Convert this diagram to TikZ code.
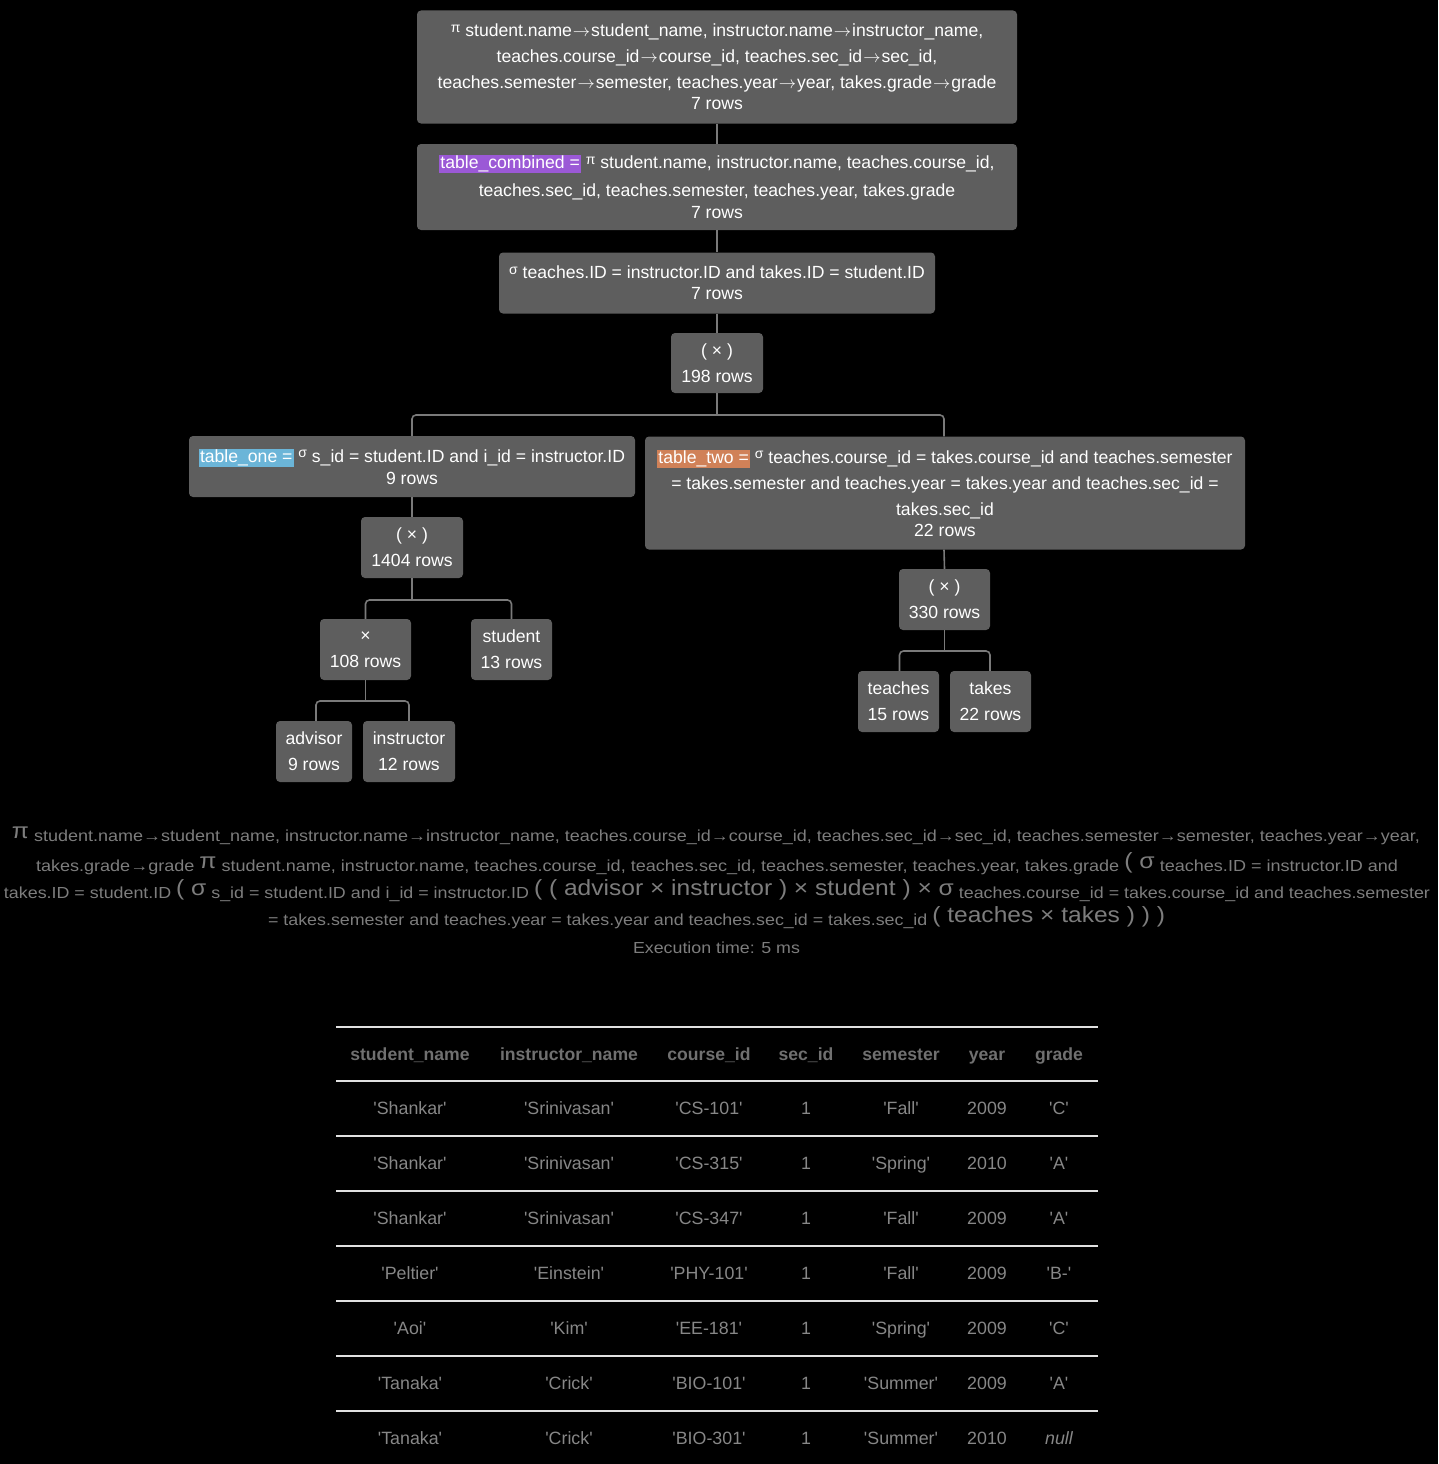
\documentclass[tikz,border=0pt]{standalone}
\usepackage{fontspec}
\setmainfont{Liberation Sans}
\newfontfamily\cellfont{Liberation Sans}[Ligatures=TeXOff]
\usepackage{graphicx}
\usetikzlibrary{calc}

\definecolor{boxfill}{RGB}{94,94,94}
\definecolor{wirecol}{RGB}{122,122,122}
\definecolor{hlpurple}{RGB}{155,89,214}
\definecolor{hlblue}{RGB}{107,181,216}
\definecolor{hlorange}{RGB}{208,129,88}
\definecolor{exprgray}{RGB}{125,125,125}
\definecolor{headgray}{RGB}{112,112,112}
\definecolor{cellgray}{RGB}{135,135,135}
\definecolor{rulegray}{RGB}{225,225,225}

% small raised operator symbol inside the tree boxes
\newcommand\opsym[1]{\raisebox{4.5pt}{\fontsize{14}{14}\selectfont #1}}
% long thin arrow used for renamings in the tree boxes
\newcommand\ren{\kern1pt$\rightarrow$\kern1pt}
% highlighted relation name
\newcommand\hlname[2]{{\setlength\fboxsep{1pt}\colorbox{#1}{#2}}}
% large symbol in the linear expression
\newcommand\bigpart[1]{\raisebox{3pt}{\fontsize{22}{22}\selectfont #1}}
% stretch a line of text to a given width
\newsavebox\exprbox
\newcommand\fitline[2]{\sbox\exprbox{#2}\pgfmathsetmacro\fitscale{#1/\wd\exprbox}\scalebox{\fitscale}[1]{\usebox\exprbox}}

\tikzset{
  opbox/.style={fill=boxfill, rounded corners=4pt, inner sep=0pt, text=white,
    align=center, font=\fontsize{17.6}{26}\selectfont},
  wire/.style={draw=wirecol, line width=1.6pt, rounded corners=4pt},
  exprline/.style={inner sep=0pt, text=exprgray, font=\fontsize{16}{20}\selectfont},
  headcell/.style={inner sep=0pt, anchor=base, text=headgray, font=\fontsize{17.6}{20}\selectfont\bfseries},
  datacell/.style={inner sep=0pt, anchor=base, text=cellgray, font=\fontsize{17.8}{20}\selectfont\cellfont},
  tablerule/.style={draw=rulegray, line width=2pt},
}

\begin{document}
\begin{tikzpicture}[x=1pt, y=-1pt]
\fill[black] (0,0) rectangle (1438,1464);
\useasboundingbox (0,0) rectangle (1438,1464);

% ---------- operator tree ----------
\node[opbox, minimum width=600pt, minimum height=113pt] (proj) at (717,67)
  {\opsym{π} student.name\ren student\_name, instructor.name\ren instructor\_name,\\
   teaches.course\_id\ren course\_id, teaches.sec\_id\ren sec\_id,\\
   teaches.semester\ren semester, teaches.year\ren year, takes.grade\ren grade\\[-5pt]
   7 rows};

\node[opbox, minimum width=600pt, minimum height=86pt] (comb) at (717,187)
  {\hlname{hlpurple}{table\_combined =} \opsym{π} student.name, instructor.name, teaches.course\_id,\\[2pt]
   teaches.sec\_id, teaches.semester, teaches.year, takes.grade\\[-4pt]
   7 rows};

\node[opbox, minimum width=436pt, minimum height=61pt] (sel) at (717,283)
  {\opsym{σ} teaches.ID = instructor.ID and takes.ID = student.ID\\[-5pt]
   7 rows};

\node[opbox, minimum width=92pt, minimum height=60pt] (prodA) at (717,363)
  {( × )\\ 198 rows};

\node[opbox, minimum width=446pt, minimum height=61pt] (tone) at (412,466.5)
  {\hlname{hlblue}{table\_one =} \opsym{σ} s\_id = student.ID and i\_id = instructor.ID\\[-4pt]
   9 rows};

\node[opbox, minimum width=600pt, minimum height=113pt] (ttwo) at (945,493)
  {\hlname{hlorange}{table\_two =} \opsym{σ} teaches.course\_id = takes.course\_id and teaches.semester\\
   = takes.semester and teaches.year = takes.year and teaches.sec\_id =\\
   takes.sec\_id\\[-5pt]
   22 rows};

\node[opbox, minimum width=102pt, minimum height=61pt] (prodB) at (412,547.5)
  {( × )\\ 1404 rows};
\node[opbox, minimum width=91pt, minimum height=61pt] (prodC) at (365.5,649.5)
  {×\\ 108 rows};
\node[opbox, minimum width=81pt, minimum height=61pt] (student) at (511.5,649.5)
  {student\\ 13 rows};
\node[opbox, minimum width=76pt, minimum height=61pt] (advisor) at (314,751.5)
  {advisor\\ 9 rows};
\node[opbox, minimum width=92pt, minimum height=61pt] (instructor) at (409,751.5)
  {instructor\\ 12 rows};

\node[opbox, minimum width=91pt, minimum height=61pt] (prodD) at (944.5,599.5)
  {( × )\\ 330 rows};
\node[opbox, minimum width=81pt, minimum height=61pt] (teaches) at (898.5,701.5)
  {teaches\\ 15 rows};
\node[opbox, minimum width=81pt, minimum height=61pt] (takes) at (990.5,701.5)
  {takes\\ 22 rows};

% connectors
\draw[wire] (proj.south) -- (comb.north);
\draw[wire] (comb.south) -- (sel.north);
\draw[wire] (sel.south) -- (prodA.north);
\draw[wire] (prodA.south) -- (prodA.south |- 0,415);
\draw[wire] (tone.north) |- (prodA.south |- 0,415) -| ([xshift=-1pt]ttwo.north);
\draw[wire] (tone.south) -- (prodB.north);
\draw[wire] (prodB.south) -- (prodB.south |- 0,600);
\draw[wire] (prodC.north) |- (prodB.south |- 0,600) -| (student.north);
\draw[wire] (prodC.south) -- (prodC.south |- 0,701);
\draw[wire] ([xshift=2pt]advisor.north) |- (prodC.south |- 0,701) -| (instructor.north);
\draw[wire] ([xshift=-1pt]ttwo.south) -- (prodD.north);
\draw[wire] (prodD.south) -- (prodD.south |- 0,651);
\draw[wire] ([xshift=1pt]teaches.north) |- (prodD.south |- 0,651) -| ([xshift=-0.5pt]takes.north);

% ---------- linear expression ----------
\node[exprline] (exA) at (716,836) {\fitline{1408}{\bigpart{π} student.name→student\_name, instructor.name→instructor\_name, teaches.course\_id→course\_id, teaches.sec\_id→sec\_id, teaches.semester→semester, teaches.year→year,}};
\node[exprline] (exB) at (717,864) {\fitline{1362}{takes.grade→grade \bigpart{π} student.name, instructor.name, teaches.course\_id, teaches.sec\_id, teaches.semester, teaches.year, takes.grade \bigpart{( σ} teaches.ID = instructor.ID and}};
\node[exprline] (exC) at (717,891) {\fitline{1426}{takes.ID = student.ID \bigpart{( σ} s\_id = student.ID and i\_id = instructor.ID \bigpart{( ( advisor × instructor ) × student ) × σ} teaches.course\_id = takes.course\_id and teaches.semester}};
\node[exprline] (exD) at (716.5,918) {\fitline{897}{= takes.semester and teaches.year = takes.year and teaches.sec\_id = takes.sec\_id \bigpart{( teaches × takes ) ) )}}};
\node[exprline] (exE) at (716.5,948) {\fitline{167}{Execution time: 5 ms}};

% ---------- result table ----------
\foreach \ry in {1027,1081,1136,1191,1246,1301,1356,1411}
  \draw[tablerule] (336,\ry) -- (1098,\ry);

\foreach \cx/\ct [count=\ci] in {410/student\_name, 569/instructor\_name, 709/course\_id,
    806/sec\_id, 901/semester, 987/year, 1059/grade}
  \node[headcell] (head\ci) at (\cx,1060) {\ct};

\foreach \ry/\va/\vb/\vc/\vd/\ve/\vf/\vg [count=\ri] in {
    1114/'Shankar'/'Srinivasan'/'CS-101'/1/'Fall'/2009/'C',
    1169/'Shankar'/'Srinivasan'/'CS-315'/1/'Spring'/2010/'A',
    1224/'Shankar'/'Srinivasan'/'CS-347'/1/'Fall'/2009/'A',
    1279/'Peltier'/'Einstein'/'PHY-101'/1/'Fall'/2009/'B-',
    1334/'Aoi'/'Kim'/'EE-181'/1/'Spring'/2009/'C',
    1389/'Tanaka'/'Crick'/'BIO-101'/1/'Summer'/2009/'A',
    1444/'Tanaka'/'Crick'/'BIO-301'/1/'Summer'/2010/{\itshape null}} {
  \node[datacell] (r\ri c1) at (410,\ry) {\va};
  \node[datacell] (r\ri c2) at (569,\ry) {\vb};
  \node[datacell] (r\ri c3) at (709,\ry) {\vc};
  \node[datacell] (r\ri c4) at (806,\ry) {\vd};
  \node[datacell] (r\ri c5) at (901,\ry) {\ve};
  \node[datacell] (r\ri c6) at (987,\ry) {\vf};
  \node[datacell] (r\ri c7) at (1059,\ry) {\vg};
}
\end{tikzpicture}
\end{document}
